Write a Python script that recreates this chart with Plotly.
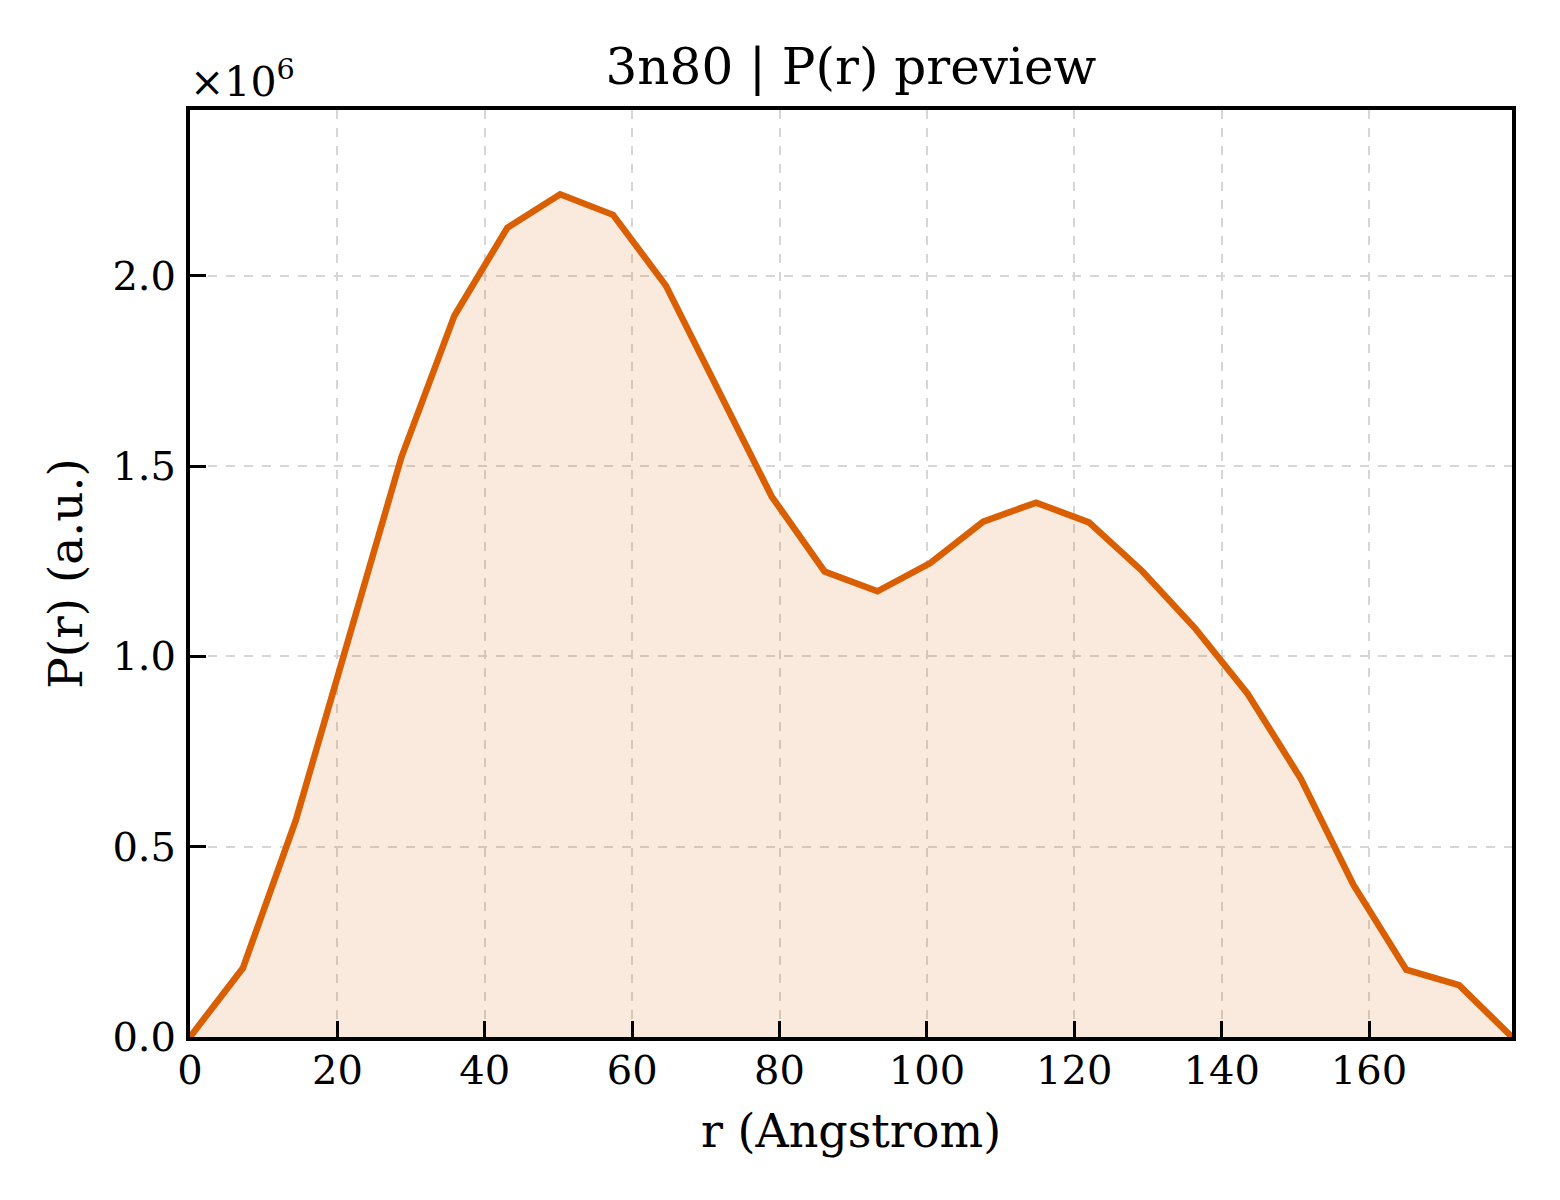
import plotly.graph_objects as go

# P(r) preview for 3n80 (P in units of 1e6)
r_angstrom = [0.0, 7.18, 14.35, 21.53, 28.70, 35.88, 43.06, 50.23, 57.41, 64.58,
              71.76, 78.94, 86.11, 93.29, 100.46, 107.64, 114.82, 121.99, 129.17,
              136.34, 143.52, 150.70, 157.87, 165.05, 172.22, 179.40]
pr_e6 = [0.0, 0.181, 0.569, 1.04, 1.524, 1.895, 2.126, 2.214, 2.160, 1.974,
         1.696, 1.420, 1.223, 1.171, 1.245, 1.354, 1.404, 1.352, 1.225,
         1.075, 0.902, 0.680, 0.400, 0.177, 0.136, 0.0]

x_ticks = [0, 20, 40, 60, 80, 100, 120, 140, 160]
y_ticks = [0.0, 0.5, 1.0, 1.5, 2.0]

FONT = "DejaVu Serif"
LINE = "#D95F02"

fig = go.Figure()
fig.add_trace(go.Scatter(
    x=r_angstrom, y=pr_e6,
    mode="lines",
    line=dict(color=LINE, width=6.5),
    fill="tozeroy",
    fillcolor="rgba(217,95,2,0.13)",
    showlegend=False,
))

axis_common = dict(
    showline=True, linecolor="black", linewidth=4, mirror=True,
    ticks="inside", ticklen=16, tickwidth=3, tickcolor="black",
    showgrid=True, gridcolor="#d6d6d6", gridwidth=2, griddash="dash",
    zeroline=False,
    tickfont=dict(family=FONT, size=40, color="black"),
)

fig.update_xaxes(
    range=[0, max(r_angstrom)], tickvals=x_ticks,
    title=dict(text="r (Angstrom)", font=dict(family=FONT, size=46, color="black"), standoff=24),
    ticklabelstandoff=-5,
    **axis_common,
)
fig.update_yaxes(
    range=[0, max(pr_e6) * 1.1], tickvals=y_ticks, tickformat=".1f",
    title=dict(text="P(r) (a.u.)", font=dict(family=FONT, size=47, color="black"), standoff=16),
    ticklabelstandoff=2,
    **axis_common,
)

fig.update_layout(
    width=1560, height=1200,
    margin=dict(l=182, r=56, t=102, b=171),
    paper_bgcolor="white", plot_bgcolor="white",
    title=dict(text="3n80 | P(r) preview", x=0.5, xref="paper", xanchor="center",
               y=1 - 76 / 1200, yref="container", yanchor="bottom",
               font=dict(family=FONT, size=50, color="black")),
    annotations=[dict(text="×10<sup>6</sup>", xref="paper", yref="paper", x=0, y=1,
                      xanchor="left", yanchor="bottom", xshift=-2, yshift=2, showarrow=False,
                      font=dict(family=FONT, size=41, color="black"))],
)

fig.write_html("out.html")
